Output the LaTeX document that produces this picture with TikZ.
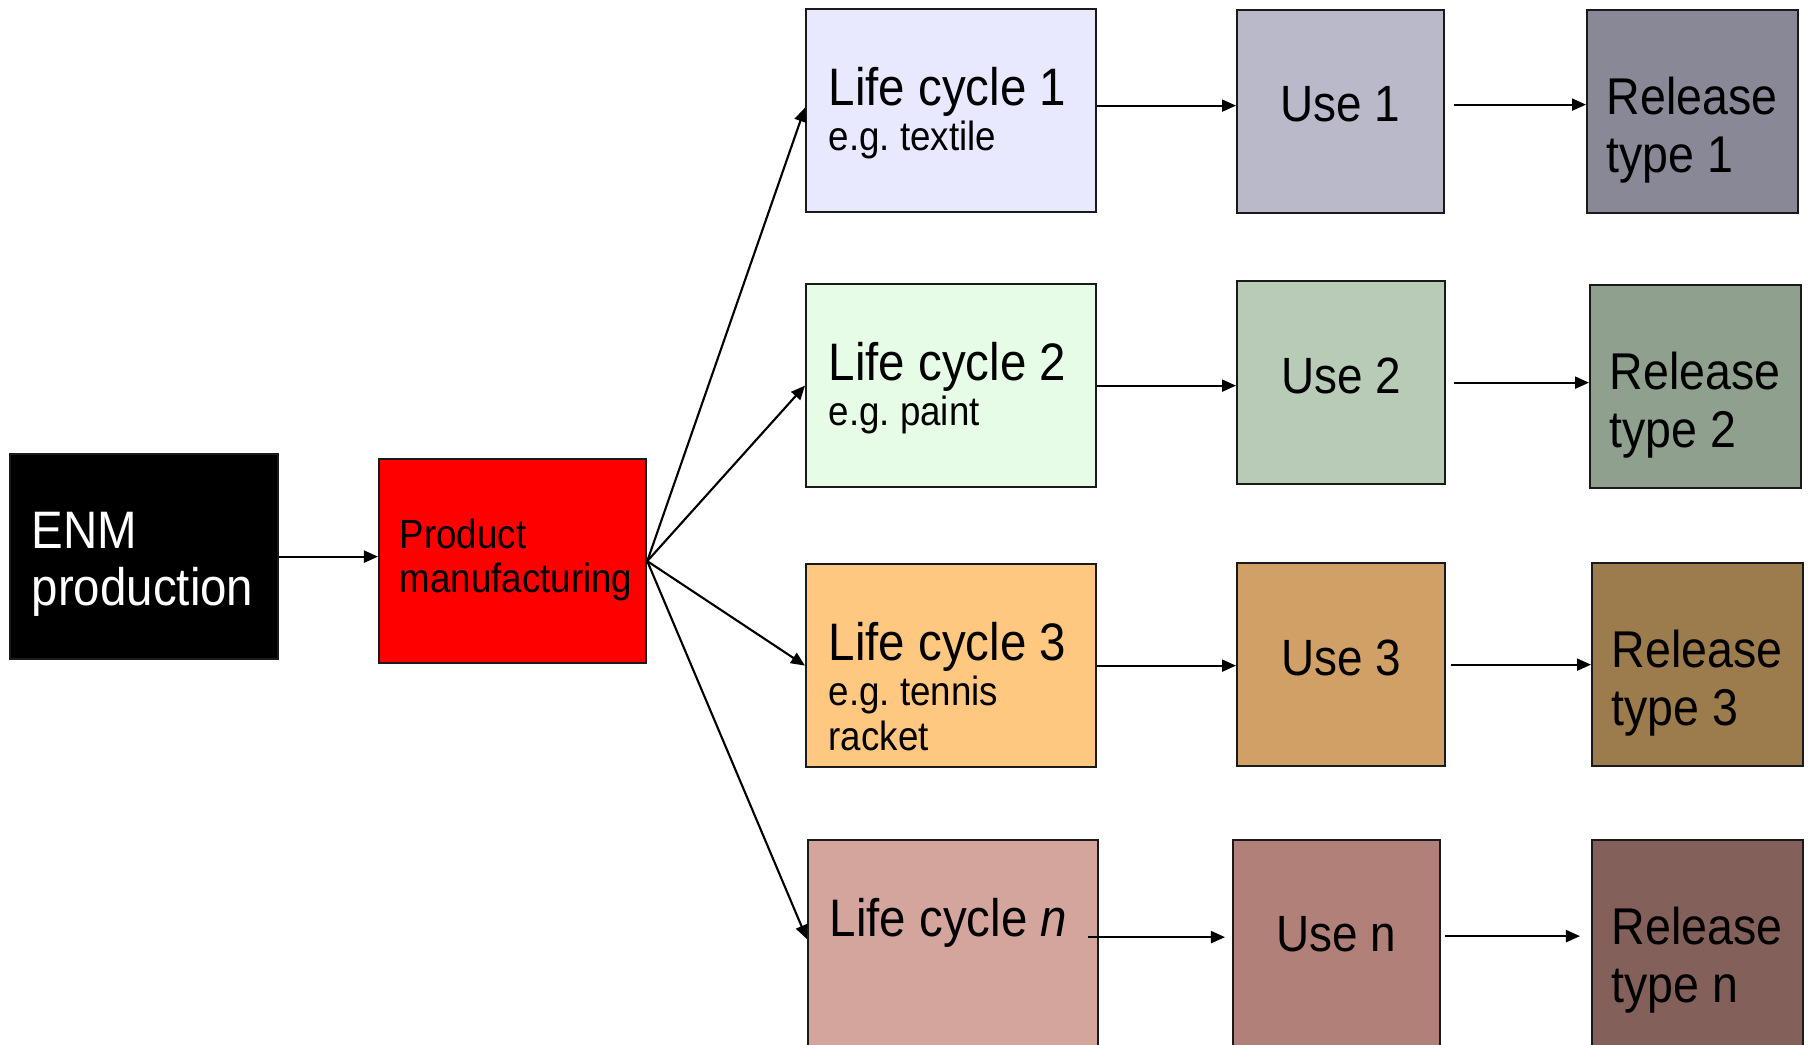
\documentclass[tikz,border=0pt]{standalone}
\usepackage{fontspec}
\setmainfont[FakeStretch=0.9]{Liberation Sans}
\usepackage{tikz}
\usetikzlibrary{positioning, arrows.meta, calc}
\frenchspacing
\definecolor{lconefill}{HTML}{E8E8FF}
\definecolor{useonefill}{HTML}{B9B9CA}
\definecolor{relonefill}{HTML}{888896}
\definecolor{lctwofill}{HTML}{E6FCE6}
\definecolor{usetwofill}{HTML}{B7CBB7}
\definecolor{reltwofill}{HTML}{8FA08F}
\definecolor{lcthreefill}{HTML}{FFC880}
\definecolor{usethreefill}{HTML}{D0A066}
\definecolor{relthreefill}{HTML}{9C7B4C}
\definecolor{lcnfill}{HTML}{D4A59C}
\definecolor{usenfill}{HTML}{B18179}
\definecolor{relnfill}{HTML}{84605A}
\definecolor{prodred}{HTML}{FF0000}
\definecolor{edge}{HTML}{1A1A1A}
\tikzset{
  box/.style     = {rectangle, draw=edge, line width=0.6pt, anchor=north west,
                    inner sep=0pt},
  lcbox/.style   = {box, minimum width=2.90cm, minimum height=2.03cm},
  usebox/.style  = {box, minimum width=2.07cm, minimum height=2.03cm},
  relbox/.style  = {box, minimum width=2.11cm, minimum height=2.03cm},
  bigtxt/.style  = {anchor=north west, inner sep=0pt, align=flush left,
                    font=\fontsize{14.7}{16.5}\selectfont},
  lctxt/.style   = {bigtxt, text width=2.65cm, font=\fontsize{15}{16.5}\selectfont},
  reltxt/.style  = {bigtxt, text width=1.90cm},
  usetxt/.style  = {anchor=north, inner sep=0pt, font=\fontsize{14.5}{16.5}\selectfont},
  ar/.style      = {-{Triangle[length=0.14cm,width=0.12cm]}, line width=0.6pt, draw=black},
}
\newcommand{\egline}[1]{\par{\fontsize{11.6}{12.7}\selectfont #1\par}}

\begin{document}
\begin{tikzpicture}[x=0.01cm, y=-0.01cm]

  \useasboundingbox (0,0) rectangle (1808,1044);
  \clip (0,0) rectangle (1808,1044);

  % source and manufacturing
  \node[box, fill=black, minimum width=2.68cm, minimum height=2.05cm] (enm) at (9,453) {};
  \node[box, fill=prodred, minimum width=2.67cm, minimum height=2.04cm] (prod) at (378,458) {};
  \node[bigtxt, text width=2.45cm, text=white, font=\fontsize{15}{16.4}\selectfont]
       (enmt) at ([shift={(22,58)}]enm.north west) {ENM\\production};
  \node[bigtxt, text width=2.50cm, font=\fontsize{11.6}{12.5}\selectfont]
       (prodt) at ([shift={(21,60)}]prod.north west) {Product\\manufacturing};

  % life cycles
  \node[lcbox, fill=lconefill]   (lc1) at (805,8)   {};
  \node[lcbox, fill=lctwofill]   (lc2) at (805,283) {};
  \node[lcbox, fill=lcthreefill] (lc3) at (805,563) {};
  \node[lcbox, fill=lcnfill, minimum height=2.10cm] (lcn) at (807,839) {};

  \node[lctxt] (lc1t) at ([shift={(23,59)}]lc1.north west) {Life cycle 1\egline{e.g. textile}};
  \node[lctxt] (lc2t) at ([shift={(23,59)}]lc2.north west) {Life cycle 2\egline{e.g. paint}};
  \node[lctxt] (lc3t) at ([shift={(23,59)}]lc3.north west) {Life cycle 3\egline{e.g. tennis\\racket}};
  \node[lctxt] (lcnt) at ([shift={(22,59)}]lcn.north west) {Life cycle \textit{n}};

  % uses
  \node[usebox, fill=useonefill]                       (use1) at (1236,9)   {};
  \node[usebox, fill=usetwofill, minimum width=2.08cm] (use2) at (1236,280) {};
  \node[usebox, fill=usethreefill, minimum width=2.08cm] (use3) at (1236,562) {};
  \node[usebox, fill=usenfill, minimum height=2.10cm]  (usen) at (1232,839) {};

  \node[usetxt] (use1t) at ([yshift=-0.77cm]use1.north) {Use 1};
  \node[usetxt] (use2t) at ([yshift=-0.77cm]use2.north) {Use 2};
  \node[usetxt] (use3t) at ([yshift=-0.77cm]use3.north) {Use 3};
  \node[usetxt] (usent) at ([yshift=-0.77cm]usen.north) {Use n};

  % releases
  \node[relbox, fill=relonefill]   (rel1) at (1586,9)   {};
  \node[relbox, fill=reltwofill]   (rel2) at (1589,284) {};
  \node[relbox, fill=relthreefill] (rel3) at (1591,562) {};
  \node[relbox, fill=relnfill, minimum height=2.10cm] (reln) at (1591,839) {};

  \node[reltxt] (rel1t) at ([shift={(20,67)}]rel1.north west) {Release\\type 1};
  \node[reltxt] (rel2t) at ([shift={(20,67)}]rel2.north west) {Release\\type 2};
  \node[reltxt] (rel3t) at ([shift={(20,67)}]rel3.north west) {Release\\type 3};
  \node[reltxt] (relnt) at ([shift={(20,67)}]reln.north west) {Release\\type n};

  % connectors
  \coordinate (lcnout) at ([shift={(-11,-8)}]lcn.east);

  \draw[ar] (enm.east) -- (enm.east -| prod.west);
  \draw[ar] (prod.east) -- ([yshift=0.03cm]lc1.west);
  \draw[ar] (prod.east) -- (lc2.west);
  \draw[ar] (prod.east) -- (lc3.west);
  \draw[ar] (prod.east) -- ([yshift=0.06cm]lcn.west);

  \draw[ar] ([yshift=0.05cm]lc1.east) -- ([yshift=0.05cm]lc1.east -| use1.west);
  \draw[ar] (lc2.east) -- (lc2.east -| use2.west);
  \draw[ar] (lc3.east) -- (lc3.east -| use3.west);
  \draw[ar, shorten >=0.07cm] (lcnout) -- (lcnout -| usen.west);

  \draw[ar, shorten <=0.09cm] ([yshift=0.07cm]use1.east) -- ([yshift=0.07cm]use1.east -| rel1.west);
  \draw[ar, shorten <=0.08cm] (use2.east) -- (use2.east -| rel2.west);
  \draw[ar, shorten <=0.05cm] (use3.east) -- (use3.east -| rel3.west);
  \draw[ar, shorten <=0.04cm, shorten >=0.11cm] ([yshift=0.09cm]usen.east) -- ([yshift=0.09cm]usen.east -| reln.west);

\end{tikzpicture}
\end{document}
